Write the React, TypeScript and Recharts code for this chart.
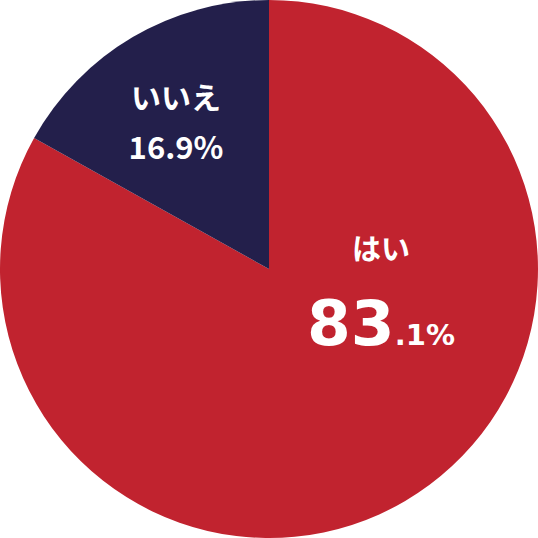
import React from "react";
import { PieChart, Pie, Cell } from "recharts";

const categories = ["はい", "いいえ"];
const values = [83.1, 16.9];
const colors = ["#C1232F", "#231F4B"];

const data = categories.map((name, i) => ({ name, value: values[i] }));

const jpFont = '"Noto Sans CJK JP", sans-serif';
const numFont = '"DejaVu Sans", sans-serif';

// label placement relative to the pie centre
const labelSpots = [
  { dx: 112, nameY: -9, valueY: 76 },
  { dx: -93, nameY: -160, valueY: -110 },
];

function SliceLabel(props: any) {
  const { cx, cy, index } = props;
  const spot = labelSpots[index];
  const x = cx + spot.dx;
  const val = values[index].toFixed(1);
  const [whole, frac] = val.split(".");
  if (index === 0) {
    return (
      <g>
        <text x={x} y={cy + spot.nameY} textAnchor="middle" fill="#fff" fontFamily={jpFont} fontWeight={700} fontSize={29}>
          {categories[index]}
        </text>
        <text x={x} y={cy + spot.valueY} textAnchor="middle" fill="#fff" fontFamily={numFont} fontWeight={700}>
          <tspan fontSize={63}>{whole}</tspan>
          <tspan fontSize={29}>{"." + frac + "%"}</tspan>
        </text>
      </g>
    );
  }
  return (
    <g>
      <text x={x} y={cy + spot.nameY} textAnchor="middle" fill="#fff" fontFamily={jpFont} fontWeight={700} fontSize={30}>
        {categories[index]}
      </text>
      <text x={x} y={cy + spot.valueY} textAnchor="middle" fill="#fff" fontFamily={jpFont} fontWeight={700} fontSize={31}>
        {val + "%"}
      </text>
    </g>
  );
}

export default function App() {
  return (
    <div style={{ position: "absolute", left: 0, top: 0, width: 538, height: 538, background: "#fff" }}>
      <PieChart width={538} height={538} margin={{ top: 0, right: 0, bottom: 0, left: 0 }}>
        <Pie
          data={data}
          dataKey="value"
          nameKey="name"
          cx={269}
          cy={269}
          outerRadius={269}
          startAngle={90}
          endAngle={-270}
          stroke="none"
          labelLine={false}
          label={SliceLabel}
          isAnimationActive={false}
        >
          {data.map((d, i) => (
            <Cell key={d.name} fill={colors[i]} />
          ))}
        </Pie>
      </PieChart>
    </div>
  );
}
